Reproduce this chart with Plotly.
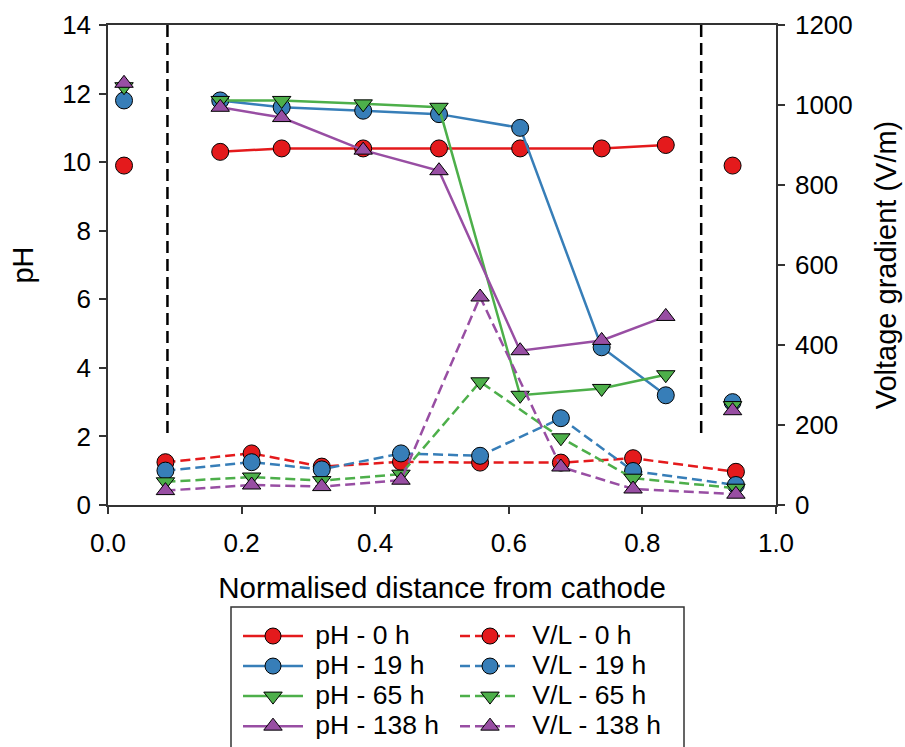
import plotly.graph_objects as go

# ---------------- data ----------------
ph_x = [0.024, 0.168, 0.260, 0.382, 0.4955, 0.617, 0.739, 0.835, 0.935]
ph_0h = [9.9, 10.3, 10.4, 10.4, 10.4, 10.4, 10.4, 10.5, 9.9]
ph_19h = [11.8, 11.8, 11.6, 11.5, 11.4, 11.0, 4.6, 3.2, 3.0]
ph_65h = [12.2, 11.8, 11.8, 11.7, 11.6, 3.2, 3.4, 3.8, 2.9]
ph_138h = [12.3, 11.6, 11.3, 10.35, 9.75, 4.5, 4.8, 5.5, 2.75]

vl_x = [0.086, 0.215, 0.320, 0.4386, 0.557, 0.678, 0.786, 0.940]
vl_0h = [107, 129, 96, 108, 106, 106, 117, 83]
vl_19h = [86, 107, 89, 129, 123, 217, 85, 50]
vl_65h = [58, 70, 61, 77, 308, 168, 67, 42]
vl_138h = [36, 50, 46, 62, 520, 95, 40, 27]

times = ["0 h", "19 h", "65 h", "138 h"]
colors = ["#E41A1C", "#377EB8", "#4DAF4A", "#984EA3"]
symbols = ["circle", "circle", "triangle-down", "triangle-up"]
ph_series = [ph_0h, ph_19h, ph_65h, ph_138h]
vl_series = [vl_0h, vl_19h, vl_65h, vl_138h]

boundary_x = [0.089, 0.888]
boundary_ph = [2.1, 14]

FONT = "Liberation Sans, Arial, sans-serif"
NB = "\u00a0"


def leg_label(s):
    return '<span style="font-size:26.5px">' + NB + s + "</span>"


fig = go.Figure()


def gap_outer(v):
    # first and last points lie outside the electrodes: not joined by the line
    return [v[0], None] + list(v[1:-1]) + [None, v[-1]]


for t, c, s, ph in zip(times, colors, symbols, ph_series):
    fig.add_trace(go.Scatter(
        x=gap_outer(ph_x), y=gap_outer(ph), mode="lines+markers",
        name=leg_label("pH - " + t), legend="legend",
        line=dict(color=c, width=2.5),
        marker=dict(symbol=s, color=c, size=17 if s == "circle" else 16,
                    line=dict(color="black", width=1)),
        connectgaps=False, yaxis="y"))

for t, c, s, vl in zip(times, colors, symbols, vl_series):
    fig.add_trace(go.Scatter(
        x=vl_x, y=vl, mode="lines+markers",
        name=leg_label("V/L - " + t), legend="legend2",
        line=dict(color=c, width=2.5, dash="10px,5px"),
        marker=dict(symbol=s, color=c, size=17 if s == "circle" else 16,
                    line=dict(color="black", width=1)),
        yaxis="y2"))

for bx in boundary_x:
    fig.add_trace(go.Scatter(
        x=[bx, bx], y=boundary_ph, mode="lines", showlegend=False,
        line=dict(color="black", width=2.5, dash="12px,6px"),
        hoverinfo="skip", yaxis="y"))

axis_common = dict(showline=True, linecolor="#333", linewidth=1.5,
                   ticks="outside", ticklen=7, tickwidth=1.5, tickcolor="#333",
                   showgrid=False, zeroline=False,
                   tickfont=dict(family=FONT, size=26, color="black"))

leg_common = dict(bgcolor="rgba(0,0,0,0)", borderwidth=0, itemwidth=60,
                  font=dict(family=FONT, size=20.8), tracegroupgap=0,
                  yanchor="top", xanchor="left")

fig.update_layout(
    width=905, height=747,
    margin=dict(l=108, r=129, t=25, b=242, autoexpand=False),
    paper_bgcolor="white", plot_bgcolor="white",
    font=dict(family=FONT, color="black"),
    xaxis=dict(range=[0, 1], tickvals=[0, 0.2, 0.4, 0.6, 0.8, 1.0],
               tickformat=".1f", mirror=True, ticklabelstandoff=7,
               title=dict(text="Normalised distance from cathode",
                          font=dict(family=FONT, size=29.5), standoff=20),
               **axis_common),
    yaxis=dict(range=[0, 14], tickvals=list(range(0, 15, 2)),
               ticklabelstandoff=3,
               title=dict(text="pH", font=dict(family=FONT, size=29), standoff=20),
               **axis_common),
    yaxis2=dict(range=[0, 1200], tickvals=list(range(0, 1201, 200)),
                overlaying="y", side="right", ticklabelstandoff=5,
                title=dict(text="Voltage gradient (V/m)",
                           font=dict(family=FONT, size=29), standoff=24),
                **axis_common),
    showlegend=True,
    legend=dict(x=(238 - 108) / 668, y=(505 - 616) / 480, **leg_common),
    legend2=dict(x=(455 - 108) / 668, y=(505 - 616) / 480, **leg_common),
    shapes=[dict(type="rect", xref="paper", yref="paper",
                 x0=(231 - 108) / 668, x1=(684 - 108) / 668,
                 y0=(505 - 607) / 480, y1=(505 - 770) / 480,
                 line=dict(color="#333", width=1.5), fillcolor="rgba(0,0,0,0)")],
)

fig.write_html("out.html")
